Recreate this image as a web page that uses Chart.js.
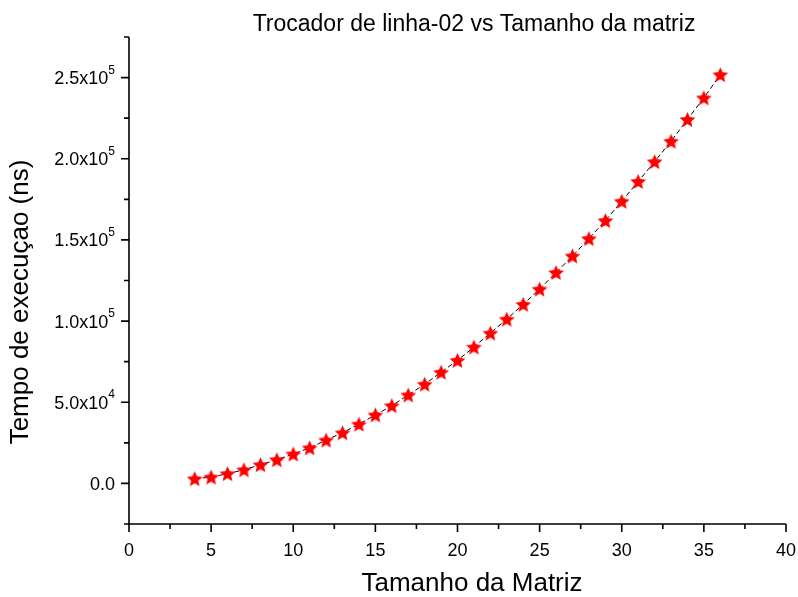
<!DOCTYPE html>
<html>
<head>
<meta charset="utf-8">
<script src="https://cdn.jsdelivr.net/npm/chart.js@4/dist/chart.umd.min.js"></script>
<style>
  html, body { margin: 0; padding: 0; background: #fff; }
  canvas { display: block; }
</style>
</head>
<body>
<canvas id="c" width="798" height="597"></canvas>
<script>
// ---- data ----
const matrixSizes = [4,5,6,7,8,9,10,11,12,13,14,15,16,17,18,19,20,21,22,23,24,25,26,27,28,29,30,31,32,33,34,35,36];
const execTimes = [2900,3900,6000,8400,11500,14600,18100,21900,26700,31200,36500,42200,47900,54500,61100,68500,75800,84000,92600,101200,110300,119700,129900,140100,150800,161900,173800,186000,198200,210800,224200,237500,251800];
const xTickValues = [0,5,10,15,20,25,30,35,40];
const xMinorValues = [2.5,7.5,12.5,17.5,22.5,27.5,32.5,37.5];
const yTickValues = [0,50000,100000,150000,200000,250000];
const yTickMantissa = ['0.0','5.0x10','1.0x10','1.5x10','2.0x10','2.5x10'];
const yTickExponent = ['','4','5','5','5','5'];
const yMinorValues = [-25000,25000,75000,125000,175000,225000,275000];
const titleText = 'Trocador de linha-02 vs Tamanho da matriz';
const xTitleText = 'Tamanho da Matriz';
const yTitleText = 'Tempo de execuçao (ns)';

const FONT = '"Liberation Sans", Arial, sans-serif';

// filled star marker
function makeStar(size, color) {
  const cv = document.createElement('canvas');
  cv.width = size; cv.height = size;
  const g = cv.getContext('2d');
  const cx = size / 2, cy = size / 2 + 0.7;
  const R = size / 2 - 0.2, r = R * 0.46;
  g.beginPath();
  for (let i = 0; i < 10; i++) {
    const a = -Math.PI / 2 + i * Math.PI / 5;
    const rad = i % 2 === 0 ? R : r;
    const px = cx + rad * Math.cos(a), py = cy + rad * Math.sin(a);
    if (i === 0) g.moveTo(px, py); else g.lineTo(px, py);
  }
  g.closePath();
  g.fillStyle = color;
  g.fill();
  return cv;
}
const starImg = makeStar(17, '#ff0000');

const axesPlugin = {
  id: 'originAxes',
  afterDraw(chart) {
    const ctx = chart.ctx;
    const xs = chart.scales.x, ys = chart.scales.y;
    const area = chart.chartArea;
    ctx.save();
    ctx.strokeStyle = '#000';
    ctx.lineWidth = 1.6;
    ctx.lineCap = 'butt';
    // axis lines
    ctx.beginPath();
    ctx.moveTo(area.left, area.top);
    ctx.lineTo(area.left, area.bottom);
    ctx.lineTo(area.right, area.bottom);
    ctx.stroke();
    // x ticks
    ctx.beginPath();
    xTickValues.forEach(v => {
      const px = xs.getPixelForValue(v);
      ctx.moveTo(px, area.bottom); ctx.lineTo(px, area.bottom + 8);
    });
    xMinorValues.forEach(v => {
      const px = xs.getPixelForValue(v);
      ctx.moveTo(px, area.bottom); ctx.lineTo(px, area.bottom + 5);
    });
    // y ticks
    yTickValues.forEach(v => {
      const py = ys.getPixelForValue(v);
      ctx.moveTo(area.left, py); ctx.lineTo(area.left - 8, py);
    });
    yMinorValues.forEach(v => {
      const py = ys.getPixelForValue(v);
      ctx.moveTo(area.left, py); ctx.lineTo(area.left - 5, py);
    });
    ctx.stroke();

    ctx.fillStyle = '#000';
    // x tick labels
    ctx.font = '18px ' + FONT;
    ctx.textAlign = 'center';
    ctx.textBaseline = 'alphabetic';
    xTickValues.forEach(v => {
      ctx.fillText(String(v), xs.getPixelForValue(v), area.bottom + 32);
    });
    // y tick labels with superscript exponent
    const rightEdge = area.left - 14;
    yTickValues.forEach((v, i) => {
      const py = ys.getPixelForValue(v);
      const exp = yTickExponent[i];
      ctx.font = '12px ' + FONT;
      const ew = exp ? ctx.measureText(exp).width : 0;
      ctx.textAlign = 'left';
      if (exp) ctx.fillText(exp, rightEdge - ew, py - 4);
      ctx.font = '18px ' + FONT;
      ctx.textAlign = 'right';
      ctx.fillText(yTickMantissa[i], rightEdge - ew, py + 6.5);
    });
    // titles
    ctx.font = '23px ' + FONT;
    ctx.textAlign = 'center';
    ctx.fillText(titleText, 474, 31);
    ctx.font = '26px ' + FONT;
    ctx.fillText(xTitleText, 472, 591);
    ctx.save();
    ctx.translate(28, 302);
    ctx.rotate(-Math.PI / 2);
    ctx.fillText(yTitleText, 0, 0);
    ctx.restore();
    ctx.restore();
  }
};

new Chart(document.getElementById('c'), {
  type: 'line',
  data: {
    datasets: [{
      data: matrixSizes.map((x, i) => ({ x: x, y: execTimes[i] })),
      borderColor: '#000',
      borderWidth: 1,
      borderDash: [5, 3],
      fill: false,
      tension: 0,
      pointStyle: starImg,
      pointRadius: 8,
      pointHoverRadius: 8
    }]
  },
  options: {
    responsive: false,
    animation: false,
    events: [],
    layout: { padding: { left: 129, right: 12, top: 37, bottom: 73 } },
    plugins: { legend: { display: false }, tooltip: { enabled: false }, title: { display: false } },
    scales: {
      x: { type: 'linear', min: 0, max: 40, display: false },
      y: { type: 'linear', min: -25000, max: 275000, display: false }
    }
  },
  plugins: [axesPlugin]
});
</script>
</body>
</html>
